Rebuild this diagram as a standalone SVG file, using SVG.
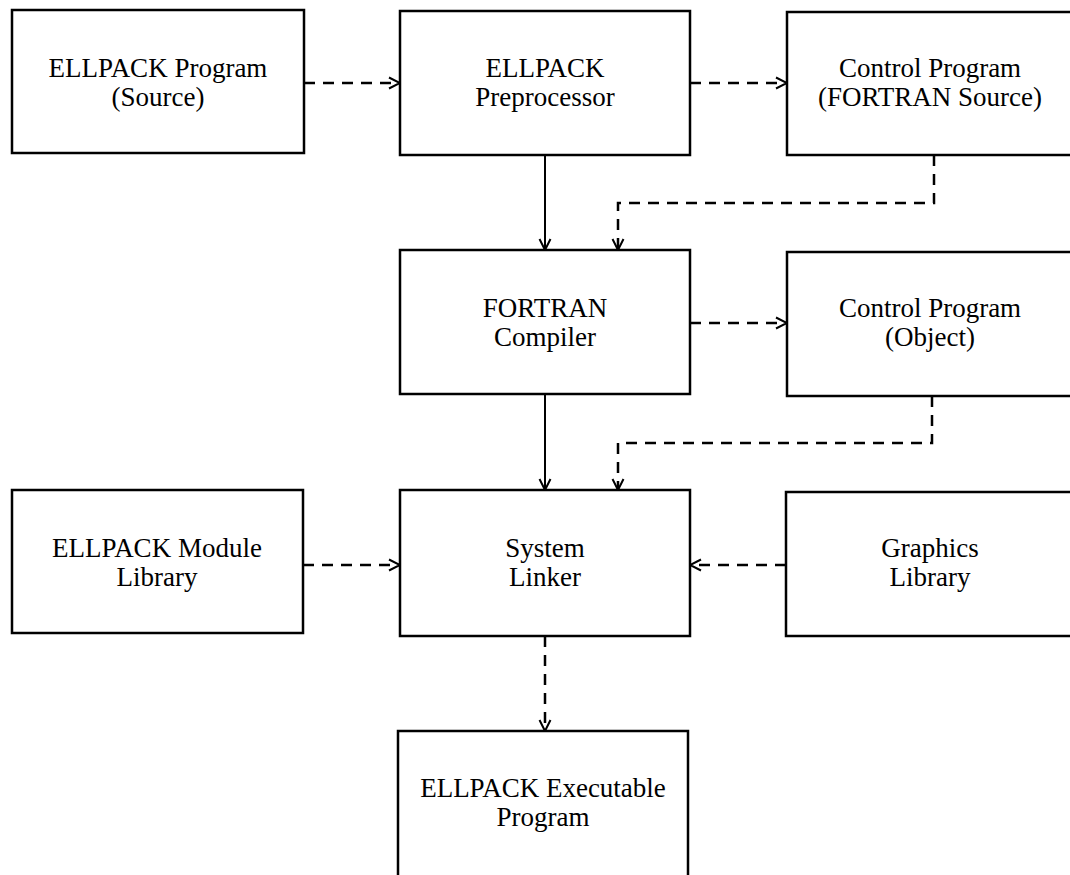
<svg xmlns="http://www.w3.org/2000/svg" width="1070" height="875" viewBox="0 0 1070 875">
<defs>
<style>
.box{fill:#fff;stroke:#000;stroke-width:2.5}
.t{font-family:"Liberation Serif","Times New Roman",serif;font-size:27px;fill:#000;text-anchor:middle}
.c{fill:none;stroke:#000;stroke-width:2}
.d{stroke-width:2.5;stroke-dasharray:11 8}
</style>
<marker id="ah" markerUnits="userSpaceOnUse" markerWidth="14" markerHeight="14" viewBox="0 0 14 14" refX="12" refY="7" orient="auto">
<path d="M1,1.5 L12,7 L1,12.5" fill="none" stroke="#000" stroke-width="2"/>
</marker>
</defs>
<rect width="1070" height="875" fill="#fff"/>
<g id="connectors">
<line class="c d" x1="304" y1="83" x2="400" y2="83" marker-end="url(#ah)"/>
<line class="c d" x1="690" y1="83" x2="787" y2="83" marker-end="url(#ah)"/>
<line class="c" x1="545" y1="155" x2="545" y2="250" marker-end="url(#ah)"/>
<polyline class="c d" points="934,155 934,203 618,203 618,250" marker-end="url(#ah)"/>
<line class="c d" x1="690" y1="323" x2="787" y2="323" marker-end="url(#ah)"/>
<line class="c" x1="545" y1="394" x2="545" y2="490" marker-end="url(#ah)"/>
<polyline class="c d" points="932,396 932,443 618,443 618,490" marker-end="url(#ah)"/>
<line class="c d" x1="303" y1="565" x2="400" y2="565" marker-end="url(#ah)"/>
<line class="c d" x1="786" y1="565" x2="690" y2="565" marker-end="url(#ah)"/>
<line class="c d" x1="545" y1="636" x2="545" y2="731" marker-end="url(#ah)"/>
</g>
<g id="n1"><rect class="box" x="12" y="10" width="292" height="143"/>
<text class="t" x="158" y="77">ELLPACK Program</text><text class="t" x="158" y="106">(Source)</text></g>
<g id="n2"><rect class="box" x="400" y="11" width="290" height="144"/>
<text class="t" x="545" y="77">ELLPACK</text><text class="t" x="545" y="106">Preprocessor</text></g>
<g id="n3"><rect class="box" x="787" y="12" width="290" height="143"/>
<text class="t" x="930" y="77">Control Program</text><text class="t" x="930" y="106">(FORTRAN Source)</text></g>
<g id="n4"><rect class="box" x="400" y="250" width="290" height="144"/>
<text class="t" x="545" y="317">FORTRAN</text><text class="t" x="545" y="346">Compiler</text></g>
<g id="n5"><rect class="box" x="787" y="252" width="290" height="144"/>
<text class="t" x="930" y="317">Control Program</text><text class="t" x="930" y="346">(Object)</text></g>
<g id="n6"><rect class="box" x="12" y="490" width="291" height="143"/>
<text class="t" x="157" y="557">ELLPACK Module</text><text class="t" x="157" y="586">Library</text></g>
<g id="n7"><rect class="box" x="400" y="490" width="290" height="146"/>
<text class="t" x="545" y="557">System</text><text class="t" x="545" y="586">Linker</text></g>
<g id="n8"><rect class="box" x="786" y="492" width="290" height="144"/>
<text class="t" x="930" y="557">Graphics</text><text class="t" x="930" y="586">Library</text></g>
<g id="n9"><rect class="box" x="398" y="731" width="290" height="150"/>
<text class="t" x="543" y="797">ELLPACK Executable</text><text class="t" x="543" y="826">Program</text></g>
</svg>
